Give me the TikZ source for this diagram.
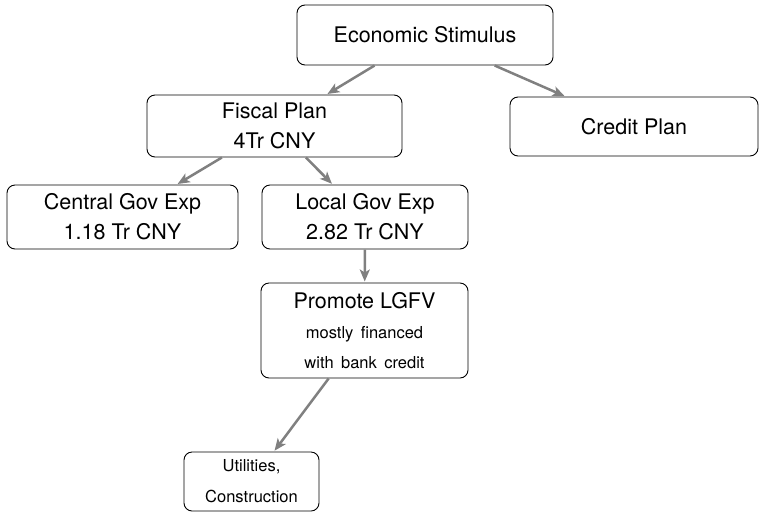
\documentclass[tikz,border=0pt]{standalone}
\usepackage{fontspec}
\setmainfont{TeX Gyre Heros}
\usetikzlibrary{arrows.meta}
\definecolor{arrowgray}{RGB}{128,128,128}
\newcommand{\bigtxt}{\fontsize{21.5}{30}\selectfont}
\newcommand{\smalltxt}{\fontsize{16.5}{31}\selectfont\spaceskip=0.45em plus 0.1em\relax}
\tikzset{
  box/.style={draw=black, line width=0.9pt, rounded corners=8pt, align=center,
    inner sep=0pt, outer sep=0.5pt, font=\bigtxt},
  link/.style={draw=arrowgray, line width=2.5pt,
    -{Stealth[length=12pt,width=10pt,inset=3pt]}, shorten >=1pt}
}
\begin{document}
\begin{tikzpicture}[x=1pt,y=-1pt]
\useasboundingbox (0,0) rectangle (762,512);
\node[box, minimum width=256pt, minimum height=60pt] (econ) at (425,35) {Economic Stimulus};
\node[box, minimum width=255pt, minimum height=62pt] (fiscal) at (274.5,126) {Fiscal Plan\\4Tr CNY};
\node[box, minimum width=248pt, minimum height=59pt] (credit) at (634,126.5) {Credit Plan};
\node[box, minimum width=231pt, minimum height=64pt] (central) at (122.5,217) {Central Gov Exp\\1.18 Tr CNY};
\node[box, minimum width=206pt, minimum height=64pt] (local) at (365,217) {Local Gov Exp\\2.82 Tr CNY};
\node[box, minimum width=207pt, minimum height=95pt] (promote) at (364.5,330.5)
  {\bigtxt\baselineskip=31pt Promote LGFV\\\smalltxt mostly financed\\\smalltxt with bank credit};
\node[box, minimum width=135pt, minimum height=59pt, font=\smalltxt] (util) at (251.5,481.5) {Utilities,\\Construction};
\draw[link] (econ) -- (fiscal);
\draw[link] (econ) -- (credit);
\draw[link] (fiscal) -- (central);
\draw[link] (fiscal) -- (local);
\draw[link] (local) -- (promote);
\draw[link] (promote) -- (util);
\end{tikzpicture}
\end{document}
